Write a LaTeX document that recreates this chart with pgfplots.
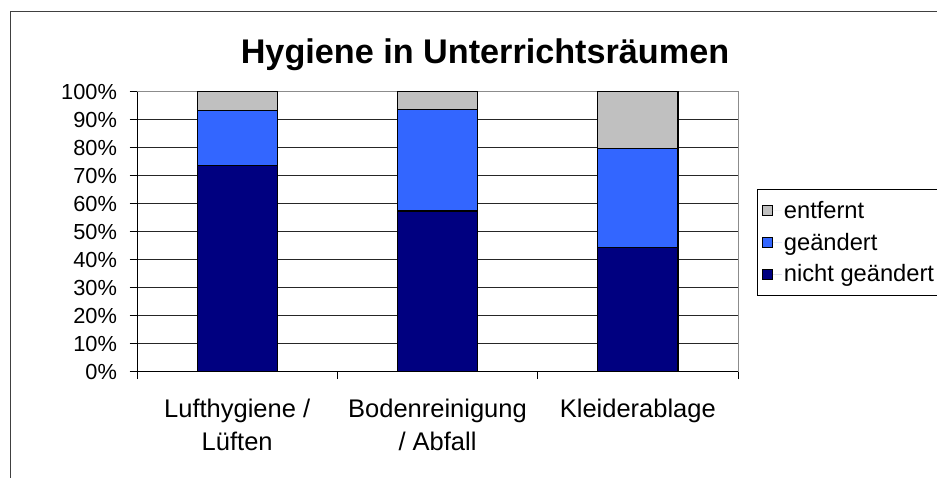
\documentclass[border=0pt]{standalone}
\usepackage{fontspec}
\setmainfont{Liberation Sans}
\usepackage{pgfplots}
\pgfplotsset{compat=1.18}
\definecolor{navy}{HTML}{000080}
\definecolor{midblue}{HTML}{3366FF}
\definecolor{silver}{HTML}{C0C0C0}
\pgfplotsset{
  seg/.style={ybar, bar shift=0pt, bar width=0.4, draw=none, fill=#1,
    legend image code/.code={%
      \draw[fill=#1,draw=black,line width=0.9pt] (0pt,-5pt) rectangle (10pt,5pt);
      \path[draw=none] (0pt,0pt) -- (19pt,0pt);}},
}
\begin{document}
\begin{tikzpicture}
\useasboundingbox (0pt,0pt) rectangle (937pt,-477pt);
\draw[line width=1.3pt, black!75] (10.7pt,-11.7pt) rectangle (980pt,-520pt);
\node[font=\fontsize{34.2}{40}\selectfont\bfseries, anchor=base] at (485pt,-63pt) {Hygiene in Unterrichtsräumen};
\begin{axis}[
  at={(137pt,-371.5pt)}, anchor=south west, scale only axis,
  width=601pt, height=280pt, clip=false,
  xmin=-0.5, xmax=2.5, ymin=0, ymax=100,
  axis line style={draw=black!45, line width=0.9pt},
  ymajorgrids, grid style={black!85, line width=0.8pt},
  ytick={0,10,...,100},
  yticklabel={\pgfmathprintnumber{\tick}\%},
  /pgf/number format/assume math mode=true,
  tick align=outside, major tick length=7.5pt,
  tick style={black, line width=0.8pt},
  ytick pos=left, xtick pos=bottom,
  yticklabel style={font=\fontsize{21.8}{26}\selectfont, xshift=-9pt},
  xtick={-0.5,0.5,1.5,2.5}, xticklabels={},
  extra x ticks={0,1,2},
  extra x tick labels={Lufthygiene /\\Lüften, Bodenreinigung\\/ Abfall, Kleiderablage},
  extra x tick style={grid=none, major tick length=0pt,
    xticklabel style={align=center, font=\fontsize{25.5}{33.4}\selectfont, yshift=-24pt}},
  legend style={at={(1.0316,0.652)}, anchor=north west, draw=black, line width=0.9pt,
    font=\fontsize{23.7}{28}\selectfont, row sep=9pt, inner xsep=5pt, inner ysep=10pt},
  legend cell align=left,
]
% cumulative tops: entfernt (100), geaendert, nicht geaendert
\addplot[seg=silver] coordinates {(0,100) (1,100) (2,100)};
\addlegendentry{entfernt}
\addplot[seg=midblue] coordinates {(0,93.3) (1,93.6) (2,79.7)};
\addlegendentry{geändert}
\addplot[seg=navy] coordinates {(0,73.7) (1,57.3) (2,44.2)};
\addlegendentry{nicht geändert\rule[-19pt]{0pt}{1pt}}
% bar outlines
\addplot[black, line width=1.2pt, sharp plot, mark=none, unbounded coords=jump, forget plot] coordinates {
  (-0.2,0) (-0.2,100) (0.2,100) (0.2,0) (-0.2,0) (0,nan)
  (-0.2,73.7) (0.2,73.7) (0,nan) (-0.2,93.3) (0.2,93.3) (0,nan)
  (0.8,0) (0.8,100) (1.2,100) (1.2,0) (0.8,0) (1,nan)
  (0.8,57.3) (1.2,57.3) (1,nan) (0.8,93.6) (1.2,93.6) (1,nan)
  (1.8,0) (1.8,100) (2.2,100) (2.2,0) (1.8,0) (2,nan)
  (1.8,44.2) (2.2,44.2) (2,nan) (1.8,79.7) (2.2,79.7)};
\draw[black, line width=0.9pt] (rel axis cs:0,1) -- (rel axis cs:0,0) -- (rel axis cs:1,0);
\end{axis}
\end{tikzpicture}
\end{document}
